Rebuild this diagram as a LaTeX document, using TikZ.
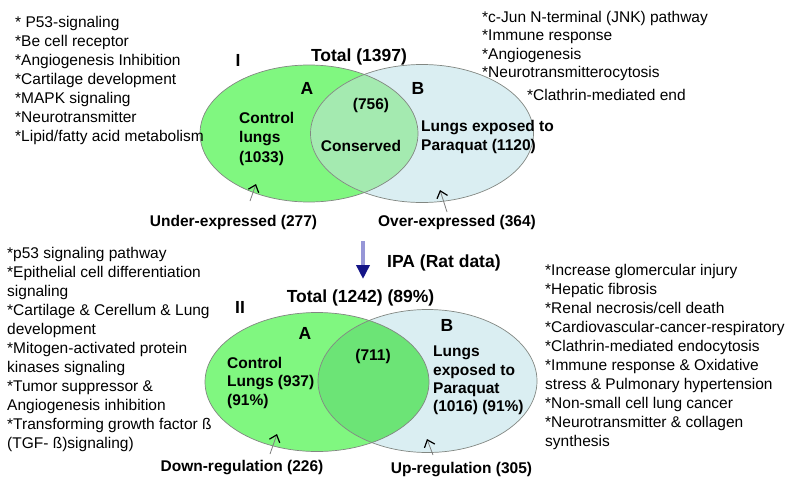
\documentclass[tikz,border=0pt]{standalone}
\usepackage{fontspec}
\setmainfont{Liberation Sans}
\usetikzlibrary{arrows.meta}

\definecolor{setA}{RGB}{128,247,128}
\definecolor{setB}{RGB}{218,238,242}
\definecolor{capTop}{RGB}{164,234,176}
\definecolor{capBot}{RGB}{108,228,118}
\definecolor{rim}{RGB}{130,135,130}
\definecolor{pointer}{RGB}{125,125,125}
\definecolor{ipaShaft}{RGB}{150,150,215}
\definecolor{ipaHead}{RGB}{20,20,135}

\tikzset{
  listtext/.style={anchor=north west, align=left, inner sep=0pt,
    font=\fontsize{15.5}{19}\selectfont},
  lbl/.style={inner sep=0pt, font=\fontsize{15.5}{19.5}\selectfont\bfseries},
  biglbl/.style={inner sep=0pt, font=\fontsize{17.5}{21}\selectfont\bfseries},
  setrim/.style={draw=rim, line width=0.7pt},
  pointerline/.style={draw=pointer, line width=0.8pt,
    -{Straight Barb[length=6.5pt,width=11pt,color=black,line width=1.2pt]}},
  ipaarrow/.style={draw=ipaShaft, line width=4pt,
    -{Triangle[length=14pt,width=13pt,color=ipaHead,fill=ipaHead]}},
}

\begin{document}
\begin{tikzpicture}[x=1pt,y=-1pt]
\useasboundingbox (0,0) rectangle (791,479);

% ---------- upper Venn diagram ----------
\fill[setA] (309,133.5) ellipse [x radius=109pt, y radius=68.5pt];
\fill[setB] (422,133.5) ellipse [x radius=111.5pt, y radius=69pt];
\begin{scope}
  \clip (309,133.5) ellipse [x radius=109pt, y radius=68.5pt];
  \fill[capTop] (422,133.5) ellipse [x radius=111.5pt, y radius=69pt];
\end{scope}
\draw[setrim] (309,133.5) ellipse [x radius=109pt, y radius=68.5pt];
\draw[setrim] (422,133.5) ellipse [x radius=111.5pt, y radius=69pt];

\node[listtext] (pathTopLeft) at (15,16)
  {* P53-signaling\\*Be cell receptor\\*Angiogenesis Inhibition\\*Cartilage development\\*MAPK signaling\\*Neurotransmitter\\*Lipid/fatty acid metabolism};
\node[listtext, font=\fontsize{15.5}{18.5}\selectfont] (pathTopRight) at (482,11)
  {*c-Jun N-terminal (JNK) pathway\\*Immune response\\*Angiogenesis\\*Neurotransmitterocytosis};
\node[listtext] (clathTop) at (527,89) {*Clathrin-mediated end};

\node[biglbl] (romanI) at (238,60) {I};
\node[biglbl] (totalTop) at (359,57) {Total (1397)};
\node[biglbl] (setAtop) at (307,88) {A};
\node[biglbl] (setBtop) at (418,88) {B};
\node[lbl] (sharedTop) at (371,105) {(756)};
\node[lbl, anchor=north west, align=left] (ctrlTop) at (239,112) {Control\\lungs\\(1033)};
\node[lbl] (conserved) at (361,146) {Conserved};
\node[lbl, anchor=north west, align=left] (pqTop) at (421,120) {Lungs exposed to\\Paraquat (1120)};
\node[lbl] (under) at (233.5,222) {Under-expressed (277)};
\node[lbl] (over) at (457,222) {Over-expressed (364)};

\coordinate (underTail) at (250,201);
\coordinate (underTip) at (256,184);
\coordinate (overTail) at (447,212);
\coordinate (overTip) at (440,190);
\draw[pointerline] (underTail) -- (underTip);
\draw[pointerline] (overTail) -- (overTip);

% ---------- IPA step ----------
\coordinate (ipaTop) at (363,241);
\coordinate (ipaTip) at (363,279);
\draw[ipaarrow] (ipaTop) -- (ipaTip);
\node[biglbl, anchor=west] (ipa) at (387,263) {IPA (Rat data)};

% ---------- lower Venn diagram ----------
\fill[setA] (317,382) ellipse [x radius=112pt, y radius=69.5pt];
\fill[setB] (427.5,381) ellipse [x radius=109.5pt, y radius=71.5pt];
\begin{scope}
  \clip (317,382) ellipse [x radius=112pt, y radius=69.5pt];
  \fill[capBot] (427.5,381) ellipse [x radius=109.5pt, y radius=71.5pt];
\end{scope}
\draw[setrim] (317,382) ellipse [x radius=112pt, y radius=69.5pt];
\draw[setrim] (427.5,381) ellipse [x radius=109.5pt, y radius=71.5pt];

\node[listtext] (pathBotLeft) at (7,247)
  {*p53 signaling pathway\\*Epithelial cell differentiation\\signaling\\*Cartilage \& Cerellum \& Lung\\development\\*Mitogen-activated protein\\kinases signaling\\*Tumor suppressor \&\\Angiogenesis inhibition\\*Transforming growth factor ß\\(TGF- ß)signaling)};
\node[listtext] (pathBotRight) at (545,264)
  {*Increase glomercular injury\\*Hepatic fibrosis\\*Renal necrosis/cell death\\*Cardiovascular-cancer-respiratory\\*Clathrin-mediated endocytosis\\*Immune response \& Oxidative\\stress \& Pulmonary hypertension\\*Non-small cell lung cancer\\*Neurotransmitter \& collagen\\synthesis};

\node[biglbl] (romanII) at (240,307) {II};
\node[biglbl] (totalBot) at (360.5,298) {Total (1242) (89\%)};
\node[biglbl] (setAbot) at (305,333) {A};
\node[biglbl] (setBbot) at (447,325) {B};
\node[lbl] (sharedBot) at (373,356) {(711)};
\node[lbl, anchor=north west, align=left, font=\fontsize{15.5}{18.5}\selectfont\bfseries] (ctrlBot) at (227,357) {Control\\Lungs (937)\\(91\%)};
\node[lbl, anchor=north west, align=left, font=\fontsize{15.5}{18.3}\selectfont\bfseries] (pqBot) at (433,346) {Lungs\\exposed to\\Paraquat\\(1016) (91\%)};
\node[lbl] (down) at (242,468) {Down-regulation (226)};
\node[lbl] (up) at (461.5,470) {Up-regulation (305)};

\coordinate (downTail) at (270,454);
\coordinate (downTip) at (277,434);
\coordinate (upTail) at (433,455);
\coordinate (upTip) at (427,439);
\draw[pointerline] (downTail) -- (downTip);
\draw[pointerline] (upTail) -- (upTip);
\end{tikzpicture}
\end{document}
